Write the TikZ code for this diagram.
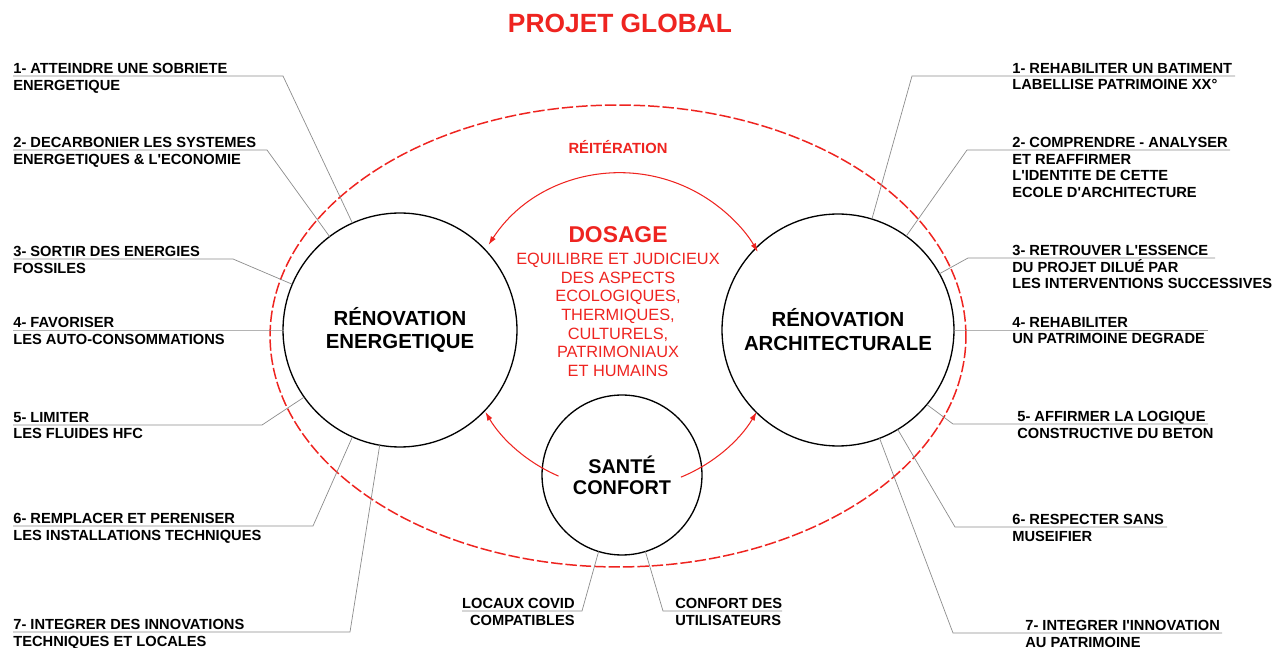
\documentclass[tikz,border=0pt]{standalone}
\usepackage{fontspec}
\setmainfont{Liberation Sans}
\usetikzlibrary{arrows.meta,calc}
\definecolor{rot}{RGB}{238,36,32}
\newcommand\apo{\textquotesingle}

\begin{document}
\begin{tikzpicture}[x=0.02cm,y=-0.02cm,
    kreis/.style={circle,draw,line width=0.75pt,inner sep=0pt,outer sep=0pt,
                  align=center,font=\bfseries\fontsize{11.6}{13.6}\selectfont},
    lbl/.style={inner sep=0pt,align=left,font=\bfseries\fontsize{8.35}{9.4}\selectfont},
    leader/.style={draw=black!45,line width=0.4pt},
    pfeil/.style={draw=rot,line width=0.6pt},
    tip/.tip={Latex[length=5pt,width=3.2pt]}]
  \useasboundingbox (0,0) rectangle (1279,648);

  % titre et enveloppe du projet
  \node[rot,font=\bfseries\fontsize{15}{18}\selectfont] (titre) at (620,23) {PROJET GLOBAL};
  \draw[rot,line width=0.85pt,dash pattern=on 6.5pt off 1.7pt]
        (618,336) ellipse [x radius=6.96cm, y radius=4.62cm];
  \node[rot,font=\bfseries\fontsize{8.4}{10}\selectfont] (reit) at (618,147) {RÉITÉRATION};

  % les trois cercles
  \node[kreis,minimum size=4.68cm] (ener) at (400,330) {RÉNOVATION\\ENERGETIQUE};
  \node[kreis,minimum size=4.64cm] (archi) at (838,330) {RÉNOVATION\\ARCHITECTURALE};
  \node[kreis,minimum size=3.2cm,font=\bfseries\fontsize{11.3}{12}\selectfont]
        (sante) at (622,475) {SANTÉ\\CONFORT};

  % dosage au centre
  \node[rot,inner sep=0pt,font=\bfseries\fontsize{13}{15}\selectfont] (dosage) at (618,235) {DOSAGE};
  \node[rot,inner sep=0pt,align=center,font=\fontsize{9.3}{10.6}\selectfont] (aspects) at (618,315)
        {EQUILIBRE ET JUDICIEUX\\DES ASPECTS\\ECOLOGIQUES,\\THERMIQUES,\\CULTURELS,\\PATRIMONIAUX\\ET HUMAINS};

  % fleches rouges sur le cercle du dosage
  \coordinate (dos) at (621,331);
  \draw[pfeil,tip-tip] (dos) ++(147:3.16cm) arc[start angle=147,end angle=30,radius=3.16cm];
  \draw[pfeil,-tip] (dos) ++(246.7:3.16cm) arc[start angle=246.7,end angle=210.8,radius=3.16cm];
  \draw[pfeil,-tip] (dos) ++(292.3:3.16cm) arc[start angle=292.3,end angle=329.2,radius=3.16cm];

  % objectifs renovation energetique
  \foreach \n/\u/\b/\a/\txt in {
      1/76/283/114/{1- ATTEINDRE UNE SOBRIETE\\ENERGETIQUE},
      2/150/267/127/{2- DECARBONIER LES SYSTEMES\\ENERGETIQUES \& L\apo ECONOMIE},
      3/259/233/157/{3- SORTIR DES ENERGIES\\FOSSILES},
      4/330/283/180/{4- FAVORISER\\LES AUTO-CONSOMMATIONS},
      5/425/262/215/{5- LIMITER\\LES FLUIDES HFC},
      6/526/313/246/{6- REMPLACER ET PERENISER\\LES INSTALLATIONS TECHNIQUES},
      7/632/350/260/{7- INTEGRER DES INNOVATIONS\\TECHNIQUES ET LOCALES}}{
    \coordinate (e\n) at (13,\u);
    \node[lbl,anchor=north west] (le\n) at ($(e\n)+(0,-13)$) {\txt};
    \draw[leader] (e\n) -- (\b,\u) -- (ener.\a);
  }

  % objectifs renovation architecturale
  \foreach \n/\u/\b/\r/\x/\a/\txt in {
      1/76/912/1235/1012/73/{1- REHABILITER UN BATIMENT\\LABELLISE PATRIMOINE XX°},
      2/150/967/1230/1012/54/{2- COMPRENDRE - ANALYSER\\ET REAFFIRMER\\L\apo IDENTITE DE CETTE\\ECOLE D\apo ARCHITECTURE},
      3/258/968/1215/1012/29/{3- RETROUVER L\apo ESSENCE\\DU PROJET DILUÉ PAR\\LES INTERVENTIONS SUCCESSIVES},
      4/330/954/1208/1012/0/{4- REHABILITER\\UN PATRIMOINE DEGRADE},
      5/424/953/1208/1017/-40/{5- AFFIRMER LA LOGIQUE\\CONSTRUCTIVE DU BETON},
      6/527/955/1167/1012/-59/{6- RESPECTER SANS\\MUSEIFIER},
      7/633/953/1222/1025/-69/{7- INTEGRER I\apo INNOVATION\\AU PATRIMOINE}}{
    \coordinate (a\n) at (\r,\u);
    \node[lbl,anchor=north west] (la\n) at (\x,\u-13) {\txt};
    \draw[leader] (archi.\a) -- (\b,\u) -- (a\n);
  }

  % sante confort
  \coordinate (covid) at (462,611);
  \coordinate (util) at (782,611);
  \node[lbl,anchor=north east,align=right] (lcovid) at (575,598) {LOCAUX COVID\\COMPATIBLES};
  \node[lbl,anchor=north west] (lutil) at (675,598) {CONFORT DES\\UTILISATEURS};
  \draw[leader] (covid) -- (582,611) -- (sante.253.6);
  \draw[leader] (util) -- (663,611) -- (sante.-73);
\end{tikzpicture}
\end{document}
